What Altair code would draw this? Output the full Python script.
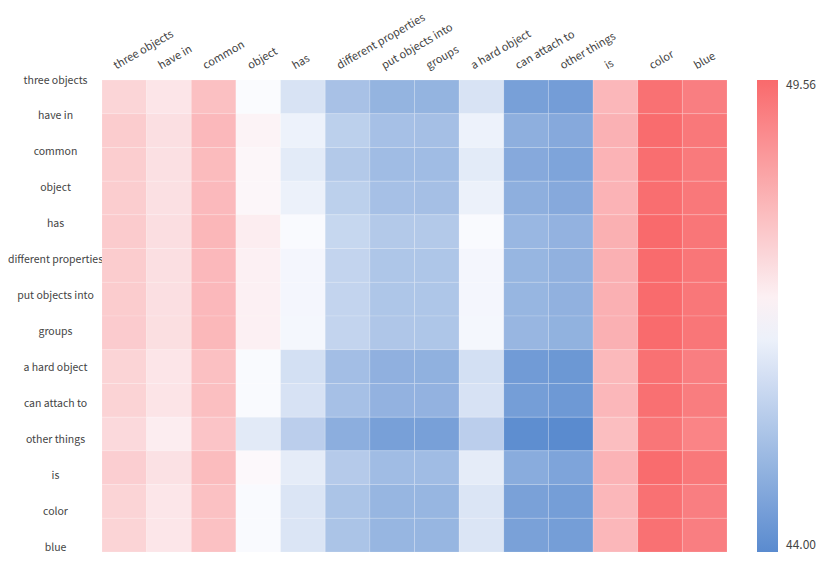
import altair as alt
import pandas as pd

tokens = ["three objects", "have in", "common", "object", "has",
          "different properties", "put objects into", "groups",
          "a hard object", "can attach to", "other things", "is",
          "color", "blue"]

row_three_objects = [47.53, 47.22, 47.93, 46.75, 46.17, 45.34, 45.00, 45.00, 46.17, 44.52, 44.45, 48.09, 49.42, 49.17]
row_have_in = [47.70, 47.33, 48.07, 46.95, 46.53, 45.69, 45.31, 45.28, 46.53, 44.89, 44.75, 48.20, 49.53, 49.29]
row_common = [47.68, 47.31, 48.02, 46.90, 46.35, 45.53, 45.20, 45.20, 46.35, 44.75, 44.61, 48.17, 49.48, 49.25]
row_object = [47.68, 47.31, 48.05, 46.90, 46.50, 45.69, 45.31, 45.28, 46.50, 44.89, 44.75, 48.17, 49.48, 49.29]
row_has = [47.72, 47.35, 48.10, 47.06, 46.73, 45.86, 45.53, 45.53, 46.73, 45.08, 44.97, 48.23, 49.56, 49.33]
row_different_properties = [47.70, 47.33, 48.07, 47.00, 46.64, 45.80, 45.45, 45.45, 46.64, 45.05, 44.94, 48.22, 49.54, 49.33]
row_put_objects_into = [47.70, 47.33, 48.07, 47.00, 46.64, 45.80, 45.45, 45.45, 46.64, 45.05, 44.94, 48.22, 49.54, 49.32]
row_groups = [47.71, 47.34, 48.08, 47.01, 46.65, 45.80, 45.46, 45.45, 46.65, 45.06, 44.95, 48.22, 49.54, 49.33]
row_a_hard_object = [47.55, 47.22, 47.93, 46.72, 46.08, 45.25, 44.92, 44.93, 46.08, 44.40, 44.31, 48.06, 49.42, 49.17]
row_can_attach_to = [47.57, 47.23, 47.95, 46.73, 46.14, 45.31, 44.97, 44.97, 46.14, 44.47, 44.34, 48.09, 49.45, 49.20]
row_other_things = [47.45, 47.06, 47.84, 46.34, 45.66, 44.86, 44.52, 44.52, 45.66, 44.07, 44.00, 47.97, 49.33, 49.07]
row_is = [47.65, 47.29, 48.00, 46.85, 46.39, 45.56, 45.20, 45.20, 46.39, 44.80, 44.61, 48.17, 49.53, 49.29]
row_color = [47.55, 47.20, 47.91, 46.72, 46.22, 45.39, 45.05, 45.05, 46.22, 44.55, 44.47, 48.09, 49.42, 49.17]
row_blue = [47.55, 47.20, 47.91, 46.73, 46.22, 45.39, 45.05, 45.05, 46.22, 44.55, 44.47, 48.09, 49.42, 49.17]

rows = [row_three_objects, row_have_in, row_common, row_object, row_has,
        row_different_properties, row_put_objects_into, row_groups,
        row_a_hard_object, row_can_attach_to, row_other_things, row_is,
        row_color, row_blue]

vmin, vmax = 44.00, 49.56
legend_values = [44.00, 49.56]

records = []
for i, r in enumerate(tokens):
    for j, c in enumerate(tokens):
        records.append({"row": r, "col": c, "value": rows[i][j]})
df = pd.DataFrame(records)
labels_df = pd.DataFrame({"row": tokens})

FONT = "Noto Sans CJK SC"
TXT = "#444444"
FS = 11

heat = alt.Chart(df).mark_rect(stroke="white", strokeWidth=0.5, strokeOpacity=0.3).encode(
    x=alt.X("col:N", sort=tokens, scale=alt.Scale(paddingInner=0, paddingOuter=0),
            axis=alt.Axis(orient="top", title=None, ticks=False, domain=False,
                          labelAngle=-30, labelAlign="left", labelBaseline="alphabetic",
                          labelPadding=11, labelOffset=-8, labelFont=FONT,
                          labelFontSize=FS, labelFontWeight="normal", labelColor=TXT,
                          labelOverlap=False)),
    y=alt.Y("row:N", sort=tokens, scale=alt.Scale(paddingInner=0, paddingOuter=0), axis=None),
    color=alt.Color("value:Q",
                    scale=alt.Scale(domain=[vmin, (vmin + vmax) / 2, vmax],
                                    range=["#5a8bcf", "#fcfcff", "#f96a6c"],
                                    interpolate="rgb"),
                    legend=alt.Legend(title=None, type="gradient", direction="vertical",
                                      orient="none", legendX=655, legendY=0,
                                      gradientLength=472, gradientThickness=21,
                                      gradientStrokeWidth=0,
                                      values=legend_values, format=".2f",
                                      labelFont=FONT, labelFontSize=FS + 1,
                                      labelFontWeight="normal",
                                      labelColor=TXT, labelOffset=8)),
)

ylabels = alt.Chart(labels_df).mark_point(opacity=0).encode(
    y=alt.Y("row:N", sort=tokens,
            scale=alt.Scale(type="point", padding=0, range=[0, 467]),
            axis=alt.Axis(orient="left", title=None, ticks=False, domain=False,
                          labelAlign="center", labelBaseline="middle",
                          labelPadding=47, labelFont=FONT, labelFontSize=10.5,
                          labelFontWeight="normal", labelColor=TXT,
                          labelOverlap=False)),
)

chart = alt.layer(heat, ylabels).resolve_scale(y="independent").properties(
    width=625, height=472,
    autosize=alt.AutoSizeParams(type="none"),
    padding={"left": 94, "top": 72, "right": 95, "bottom": 5},
).configure_view(stroke=None)

chart.save("out.html", embed_options={"renderer": "svg", "actions": False})
